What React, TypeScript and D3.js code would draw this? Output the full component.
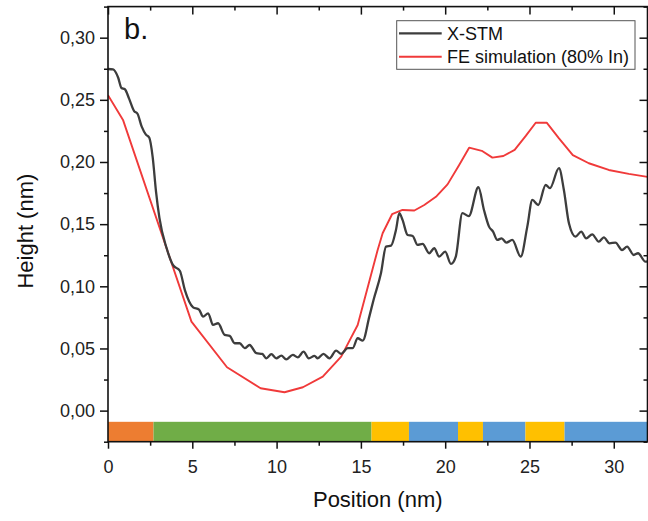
import React, { useEffect, useRef } from "react";
import * as d3 from "d3";

// X-STM height profile (gray)
const stmPos = [0, 0.3, 0.6, 0.8, 1.0, 1.25, 1.55, 1.75, 2.0, 2.25, 2.45, 2.65, 2.85, 3.05, 3.47, 3.86, 4.26, 4.56, 5.05, 5.4, 5.64, 5.94, 6.23, 6.53, 6.92, 7.22, 7.51, 7.81, 8.11, 8.4, 8.8, 9.15, 9.39, 9.69, 9.98, 10.28, 10.57, 10.96, 11.26, 11.6, 11.91, 12.25, 12.44, 12.78, 13.14, 13.53, 13.83, 14.22, 14.51, 14.81, 15.11, 15.5, 15.75, 16.19, 16.49, 16.79, 17.08, 17.28, 17.47, 17.77, 18.07, 18.36, 18.66, 19.05, 19.35, 19.64, 20.0, 20.34, 20.63, 21.02, 21.4, 21.97, 22.3, 22.6, 22.84, 23.09, 23.35, 23.63, 23.98, 24.48, 24.87, 25.17, 25.52, 25.96, 26.21, 26.75, 27.04, 27.34, 27.73, 28.07, 28.36, 28.72, 29.11, 29.41, 29.75, 30.1, 30.49, 30.79, 31.18, 31.44, 31.88, 32];
const stmHeight = [0.2748, 0.2745, 0.268, 0.2595, 0.2585, 0.251, 0.241, 0.2388, 0.2284, 0.222, 0.2195, 0.204, 0.176, 0.155, 0.131, 0.117, 0.1125, 0.097, 0.0831, 0.0813, 0.0756, 0.0783, 0.0689, 0.0703, 0.0609, 0.0601, 0.0542, 0.0542, 0.0502, 0.0528, 0.0462, 0.0456, 0.0421, 0.0454, 0.0421, 0.0442, 0.0413, 0.0448, 0.0429, 0.0474, 0.0421, 0.044, 0.0421, 0.0456, 0.0421, 0.0483, 0.0456, 0.0502, 0.0502, 0.0582, 0.0563, 0.0756, 0.089, 0.1105, 0.1319, 0.1327, 0.1453, 0.1588, 0.1534, 0.1413, 0.1405, 0.1333, 0.1341, 0.1266, 0.1306, 0.1239, 0.1279, 0.118, 0.1239, 0.1588, 0.1565, 0.1797, 0.1614, 0.148, 0.144, 0.1373, 0.1386, 0.1351, 0.1373, 0.1239, 0.148, 0.1695, 0.1654, 0.1815, 0.1789, 0.195, 0.1775, 0.1507, 0.14, 0.144, 0.1386, 0.1418, 0.1359, 0.1394, 0.1346, 0.1351, 0.1292, 0.1319, 0.1252, 0.1266, 0.1198, 0.12];

// FE simulation (red)
const fePos = [0, 0.9, 4.95, 7.06, 9.05, 10.47, 11.56, 12.74, 13.83, 14.81, 15.99, 16.29, 16.85, 17.47, 18.17, 18.76, 19.45, 20.14, 20.83, 21.42, 22.17, 22.8, 23.45, 24.12, 24.78, 25.37, 26.02, 26.75, 27.57, 28.52, 29.7, 30.89, 32];
const feHeight = [0.2537, 0.2335, 0.0716, 0.0349, 0.018, 0.0148, 0.0188, 0.0273, 0.0434, 0.0689, 0.129, 0.1427, 0.158, 0.1614, 0.161, 0.1654, 0.172, 0.182, 0.1976, 0.2115, 0.209, 0.2035, 0.2048, 0.2097, 0.221, 0.2316, 0.2316, 0.219, 0.2056, 0.199, 0.1936, 0.1904, 0.188];

// layer bar along the bottom
const layerBounds = [0, 2.7, 15.63, 17.85, 20.76, 22.24, 24.76, 27.08, 32];
const layerColors = ["#ED7D31", "#70AD47", "#FFC000", "#5B9BD5", "#FFC000", "#5B9BD5", "#FFC000", "#5B9BD5"];

const xTicks = [0, 5, 10, 15, 20, 25, 30];
const yTicks = [0, 0.05, 0.1, 0.15, 0.2, 0.25, 0.3];

const seriesNames = ["X-STM", "FE simulation (80% In)"];
const seriesColors = ["#3d3d3d", "#f03a3a"];

export default function App() {
    const ref = useRef(null);

    useEffect(() => {
        const W = 648, H = 521;
        const left = 108, right = 647.5, top = 6.6, bottom = 441.7;
        const font = "'Liberation Sans', Arial, sans-serif";

        const root = d3.select(ref.current);
        root.selectAll("*").remove();
        const svg = root.append("svg").attr("width", W).attr("height", H)
            .style("position", "absolute").style("left", 0).style("top", 0)
            .style("font-family", font);

        const x = d3.scaleLinear().domain([0, 32]).range([left, right]);
        const y = d3.scaleLinear().domain([-0.025, 0.325]).range([bottom, top]);

        svg.append("clipPath").attr("id", "plotclip").append("rect")
            .attr("x", left).attr("y", top).attr("width", right - left).attr("height", bottom - top);

        // layer bar
        svg.append("g").selectAll("rect").data(layerColors).join("rect")
            .attr("x", (d, i) => x(layerBounds[i]))
            .attr("width", (d, i) => x(layerBounds[i + 1]) - x(layerBounds[i]))
            .attr("y", y(-0.009))
            .attr("height", y(-0.025) - y(-0.009))
            .attr("fill", (d) => d);

        // curves
        const g = svg.append("g").attr("clip-path", "url(#plotclip)");
        const stm = stmPos.map((p, i) => [p, stmHeight[i]]);
        const fe = fePos.map((p, i) => [p, feHeight[i]]);
        g.append("path").datum(fe)
            .attr("d", d3.line().x((d) => x(d[0])).y((d) => y(d[1])))
            .attr("fill", "none").attr("stroke", seriesColors[1]).attr("stroke-width", 1.9)
            .attr("stroke-linejoin", "round");
        g.append("path").datum(stm)
            .attr("d", d3.line().x((d) => x(d[0])).y((d) => y(d[1])).curve(d3.curveMonotoneX))
            .attr("fill", "none").attr("stroke", seriesColors[0]).attr("stroke-width", 2.3)
            .attr("stroke-linejoin", "round");

        const fmtY = (d) => d3.format(".2f")(d).replace(".", ",");
        const xMinor = d3.range(2.5, 32, 5);
        const yMinor = d3.range(-0.025, 0.326, 0.05).map((v) => +v.toFixed(3));

        const styleAxis = (sel) => {
            sel.select(".domain").remove();
            sel.selectAll("line").attr("stroke", "#111").attr("stroke-width", 1.5);
            sel.selectAll("text").attr("fill", "#222").style("font-size", "18px").style("font-family", font);
        };

        // bottom
        svg.append("g").attr("transform", `translate(0,${bottom})`)
            .call(d3.axisBottom(x).tickValues(xTicks).tickSize(7).tickPadding(12).tickSizeOuter(0))
            .call(styleAxis);
        svg.append("g").attr("transform", `translate(0,${bottom})`)
            .call(d3.axisBottom(x).tickValues(xMinor).tickSize(4).tickFormat(() => "").tickSizeOuter(0))
            .call(styleAxis);
        // top (inward)
        svg.append("g").attr("transform", `translate(0,${top})`)
            .call(d3.axisBottom(x).tickValues(xTicks).tickSize(8).tickFormat(() => "").tickSizeOuter(0))
            .call(styleAxis);
        svg.append("g").attr("transform", `translate(0,${top})`)
            .call(d3.axisBottom(x).tickValues(xMinor).tickSize(4).tickFormat(() => "").tickSizeOuter(0))
            .call(styleAxis);
        // left
        svg.append("g").attr("transform", `translate(${left},0)`)
            .call(d3.axisLeft(y).tickValues(yTicks).tickSize(8).tickPadding(5).tickFormat(fmtY).tickSizeOuter(0))
            .call(styleAxis);
        svg.append("g").attr("transform", `translate(${left},0)`)
            .call(d3.axisLeft(y).tickValues(yMinor).tickSize(4).tickFormat(() => "").tickSizeOuter(0))
            .call(styleAxis);
        // right (inward)
        svg.append("g").attr("transform", `translate(${right},0)`)
            .call(d3.axisLeft(y).tickValues(yTicks).tickSize(8).tickFormat(() => "").tickSizeOuter(0))
            .call(styleAxis);
        svg.append("g").attr("transform", `translate(${right},0)`)
            .call(d3.axisLeft(y).tickValues(yMinor).tickSize(4).tickFormat(() => "").tickSizeOuter(0))
            .call(styleAxis);

        // frame
        svg.append("rect").attr("x", left).attr("y", top)
            .attr("width", right - left).attr("height", bottom - top)
            .attr("fill", "none").attr("stroke", "#111").attr("stroke-width", 1.6);

        // axis titles
        svg.append("text").attr("x", (left + right) / 2).attr("y", 507)
            .attr("text-anchor", "middle").style("font-size", "22px").attr("fill", "#111")
            .text("Position (nm)");
        svg.append("text").attr("transform", `translate(33,${(top + bottom) / 2 + 7}) rotate(-90)`)
            .attr("text-anchor", "middle").style("font-size", "22px").attr("fill", "#111")
            .text("Height (nm)");

        // panel label
        svg.append("text").attr("x", 124).attr("y", 39)
            .style("font-size", "29px").attr("fill", "#111").text("b.");

        // legend
        const lg = svg.append("g");
        lg.append("rect").attr("x", 396.7).attr("y", 20.7).attr("width", 238.3).attr("height", 48.6)
            .attr("fill", "#fff").attr("stroke", "#555").attr("stroke-width", 1);
        const rows = [33.3, 56.7];
        seriesNames.forEach((name, i) => {
            lg.append("line").attr("x1", 399).attr("x2", 441.7).attr("y1", rows[i]).attr("y2", rows[i])
                .attr("stroke", seriesColors[i]).attr("stroke-width", i === 0 ? 2.3 : 1.9);
            lg.append("text").attr("x", 447).attr("y", rows[i] + 6.5)
                .style("font-size", "18px").attr("fill", "#111").text(name);
        });
    }, []);

    return <div ref={ref} style={{ width: 648, height: 521 }}></div>;
}
